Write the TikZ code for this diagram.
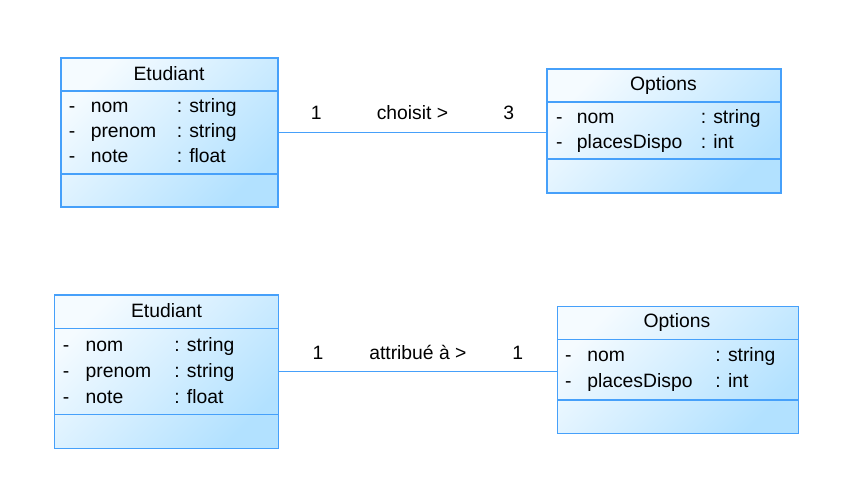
\documentclass[tikz,border=0pt]{standalone}
\usepackage{fontspec}
\setmainfont{Liberation Sans}
\usetikzlibrary{fit}
\definecolor{umlblue}{RGB}{70,160,250}
\definecolor{umllight}{RGB}{245,251,255}
\definecolor{umldark}{RGB}{178,225,255}

\begin{document}
\begin{tikzpicture}[x=0.75pt, y=-0.75pt, font=\fontsize{14.5}{17}\selectfont,
  classbox/.style={draw=umlblue, line width=1.1pt, top color=umllight, bottom color=umldark, shading angle=45, inner sep=0pt},
  sep/.style={umlblue, line width=1.1pt},
  assoc/.style={umlblue, line width=1.1pt},
  txt/.style={anchor=base west, inner sep=0pt, text=black},
  lbl/.style={anchor=base, inner sep=0pt, text=black}]
\useasboundingbox (0,0) rectangle (857,502);

% Etudiant (haut)
\node [classbox, fit={(61,58) (278,207)}] (etu1) {};
\draw [sep] (61,91) -- (278,91);
\draw [sep] (61,174) -- (278,174);
\node [lbl] (etu1t) at (169,81) {Etudiant};
\foreach \n/\t [count=\i] in {nom/string, prenom/string, note/float}{
  \node [txt] (etu1d\i) at (68.5,{113+25*(\i-1)}) {-};
  \node [txt] (etu1n\i) at (90.5,{113+25*(\i-1)}) {\n};
  \node [txt] (etu1y\i) at (176.5,{113+25*(\i-1)}) {: \t};
}

% Options (haut)
\node [classbox, fit={(547,69) (781,193)}] (opt1) {};
\draw [sep] (547,102) -- (781,102);
\draw [sep] (547,159) -- (781,159);
\node [lbl] (opt1t) at (663.5,91) {Options};
\foreach \n/\t [count=\i] in {nom/string, placesDispo/int}{
  \node [txt] (opt1d\i) at (555.8,{123.3+25*(\i-1)}) {-};
  \node [txt] (opt1n\i) at (576.7,{123.3+25*(\i-1)}) {\n};
  \node [txt] (opt1y\i) at (700.5,{123.3+25*(\i-1)}) {: \t};
}

% Etudiant (bas)
\node [classbox, fit={(54.5,295) (278.5,448.5)}] (etu2) {};
\draw [sep] (54.5,328.3) -- (278.5,328.3);
\draw [sep] (54.5,414.3) -- (278.5,414.3);
\node [lbl] (etu2t) at (166.5,318) {Etudiant};
\foreach \n/\t [count=\i] in {nom/string, prenom/string, note/float}{
  \node [txt] (etu2d\i) at (62.5,{352+25.5*(\i-1)}) {-};
  \node [txt] (etu2n\i) at (85.4,{352+25.5*(\i-1)}) {\n};
  \node [txt] (etu2y\i) at (174.2,{352+25.5*(\i-1)}) {: \t};
}

% Options (bas)
\node [classbox, fit={(557.3,306.7) (798.3,433.3)}] (opt2) {};
\draw [sep] (557.3,339.3) -- (798.3,339.3);
\draw [sep] (557.3,400) -- (798.3,400);
\node [lbl] (opt2t) at (677,328) {Options};
\foreach \n/\t [count=\i] in {nom/string, placesDispo/int}{
  \node [txt] (opt2d\i) at (564.8,{361.7+25.5*(\i-1)}) {-};
  \node [txt] (opt2n\i) at (587,{361.7+25.5*(\i-1)}) {\n};
  \node [txt] (opt2y\i) at (715.2,{361.7+25.5*(\i-1)}) {: \t};
}

% associations
\draw [assoc] (etu1.east) -- (etu1.east -| opt1.west)
  node [lbl, pos=0.14, yshift=9.5pt] (m1a) {1}
  node [lbl, pos=0.5, yshift=9.5pt] (r1) {choisit >}
  node [lbl, pos=0.86, yshift=9.5pt] (m1b) {3};
\draw [assoc] (etu2.east) -- (etu2.east -| opt2.west)
  node [lbl, pos=0.14, yshift=9.5pt] (m2a) {1}
  node [lbl, pos=0.5, yshift=9.5pt] (r2) {attribué à >}
  node [lbl, pos=0.86, yshift=9.5pt] (m2b) {1};
\end{tikzpicture}
\end{document}
